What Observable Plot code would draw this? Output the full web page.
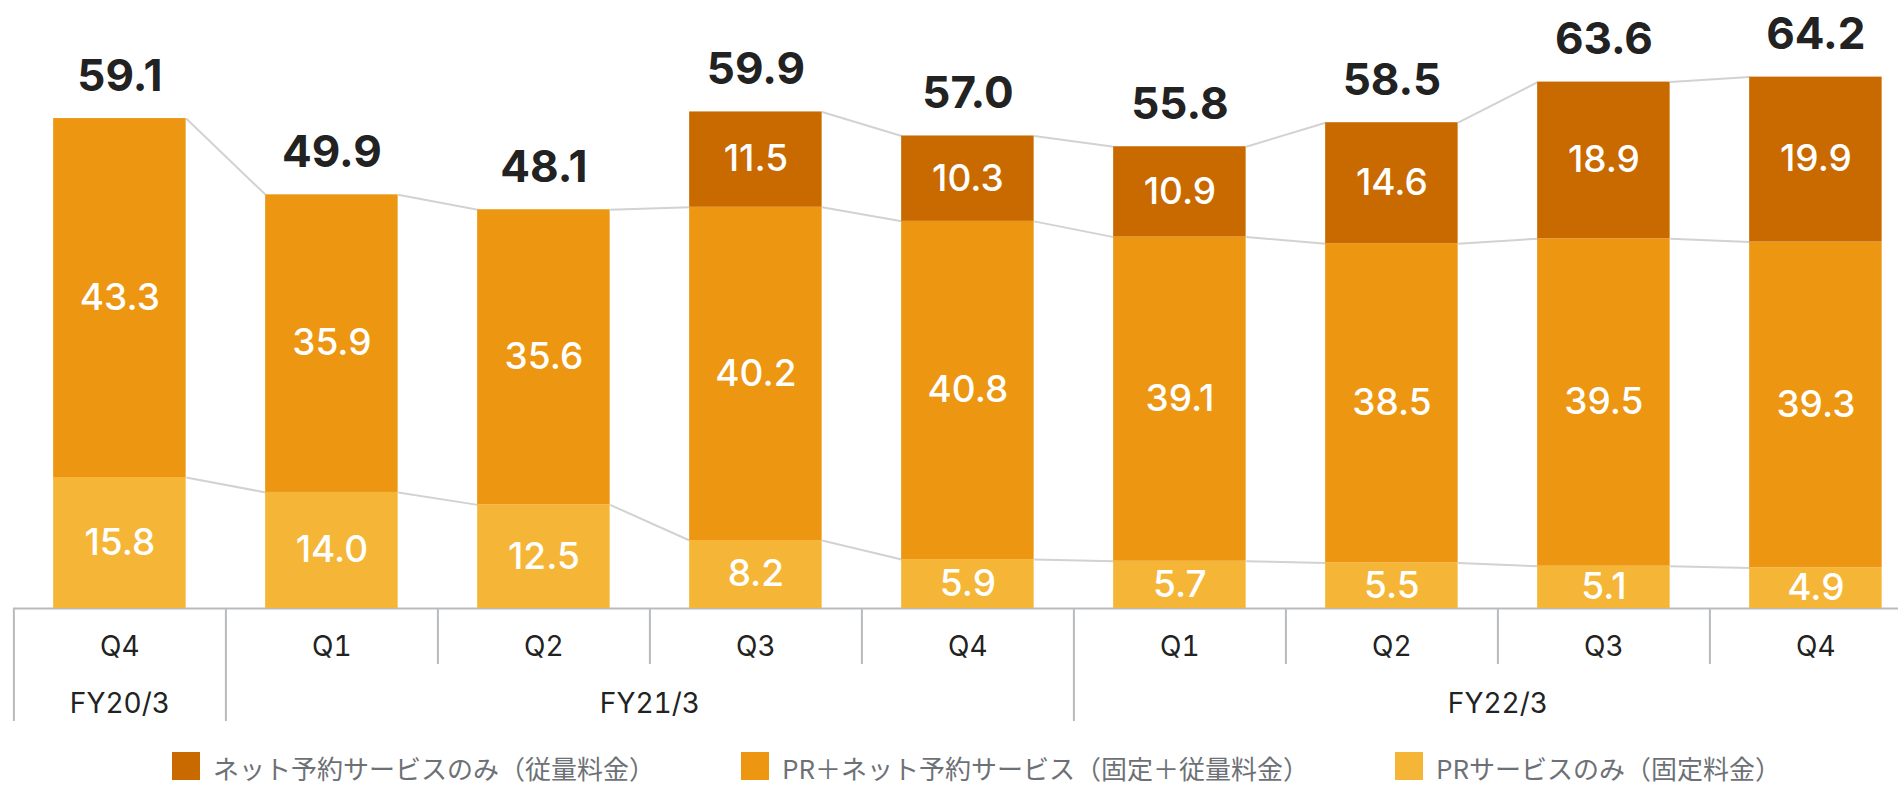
<!DOCTYPE html>
<html>
<head>
<meta charset="utf-8">
<script src="https://cdn.jsdelivr.net/npm/d3@7"></script>
<script src="https://cdn.jsdelivr.net/npm/@observablehq/plot@0.6"></script>
<style>
  html, body { margin: 0; padding: 0; background: #fff; }
  body { width: 1898px; height: 787px; overflow: hidden; font-family: Inter, "Noto Sans CJK JP", sans-serif; }
  #chart svg { display: block; }
  #legend { display: flex; align-items: flex-start; margin-top: 12px; padding-left: 172px; gap: 86px; }
  .item { display: flex; align-items: flex-start; gap: 13px; }
  .sw { width: 28px; height: 28px; flex: none; }
  .lab { font-size: 26px; line-height: 28px; color: #6d7176; white-space: nowrap; padding-top: 2px; font-family: "Noto Sans CJK JP", Inter, sans-serif; }
</style>
</head>
<body>
<div id="chart"></div>
<div id="legend"></div>
<script>
// ---- data ----
const quarters = ["Q4", "Q1", "Q2", "Q3", "Q4", "Q1", "Q2", "Q3", "Q4"];
const fiscalYears = ["FY20/3", "FY21/3", "FY21/3", "FY21/3", "FY21/3", "FY22/3", "FY22/3", "FY22/3", "FY22/3"];
const prOnly = [15.8, 14.0, 12.5, 8.2, 5.9, 5.7, 5.5, 5.1, 4.9];
const prNet = [43.3, 35.9, 35.6, 40.2, 40.8, 39.1, 38.5, 39.5, 39.3];
const netOnly = [null, null, null, 11.5, 10.3, 10.9, 14.6, 18.9, 19.9];
const totals = [59.1, 49.9, 48.1, 59.9, 57.0, 55.8, 58.5, 63.6, 64.2];
const seriesNames = ["PRサービスのみ（固定料金）", "PR＋ネット予約サービス（固定＋従量料金）", "ネット予約サービスのみ（従量料金）"];
const seriesColors = ["#F5B637", "#EC9612", "#C96A00"];
const legendOrder = [2, 1, 0];

// ---- derived tables ----
const seriesValues = [prOnly, prNet, netOnly];
const barHalf = 0.3125;
const rows = [];
const tops = seriesValues.map(() => []);
quarters.forEach((q, i) => {
  let cum = 0;
  seriesValues.forEach((vals, s) => {
    const v = vals[i];
    if (v == null) { tops[s][i] = null; return; }
    rows.push({i, s, v, y1: cum, y2: cum + v});
    cum += v;
    tops[s][i] = cum;
  });
});
const links = [];
seriesValues.forEach((vals, s) => {
  for (let i = 0; i < quarters.length - 1; i++) {
    if (tops[s][i] != null && tops[s][i + 1] != null) {
      links.push({x1: i + barHalf, x2: i + 1 - barHalf, y1: tops[s][i], y2: tops[s][i + 1]});
    }
  }
});
const totalRows = totals.map((t, i) => ({i, t, top: d3.max(tops, a => a[i])}));
const idx = d3.range(quarters.length);
const groups = d3.groups(idx, i => fiscalYears[i]).map(([fy, is]) => ({fy, center: d3.mean(is), start: d3.min(is) - 0.5}));
const groupStarts = new Set(groups.map(g => g.start));
const boundaries = d3.range(quarters.length + 1).map(k => k - 0.5);
const longSeps = boundaries.filter(b => groupStarts.has(b) || b === quarters.length - 0.5);
const shortSeps = boundaries.filter(b => !longSeps.includes(b));

const sepColor = "#b7bbbf";
const chart = Plot.plot({
  width: 1898,
  height: 740,
  marginLeft: 13,
  marginRight: 0,
  marginTop: 11,
  marginBottom: 132,
  style: {fontFamily: "Inter, 'Noto Sans CJK JP', sans-serif", background: "#fff"},
  x: {type: "linear", domain: [-0.5, quarters.length - 0.5], range: [13.4, 13.4 + 212 * quarters.length]},
  y: {domain: [0, 72], range: [608, 608 - 72 * 8.29], axis: null},
  marks: [
    Plot.ruleY([0], {stroke: sepColor, strokeWidth: 2}),
    Plot.link(links, {x1: "x1", x2: "x2", y1: "y1", y2: "y2", stroke: "#d2d2d2", strokeWidth: 2}),
    Plot.rect(rows, {x1: d => d.i - barHalf, x2: d => d.i + barHalf, y1: "y1", y2: "y2", fill: d => seriesColors[d.s]}),
    Plot.text(rows, {x: "i", y: d => (d.y1 + d.y2) / 2, text: d => d.v.toFixed(1), fill: "#fff", fontSize: 37, fontWeight: 500}),
    Plot.text(totalRows, {x: "i", y: "top", text: d => d.t.toFixed(1), fill: "#222", fontSize: 44, fontWeight: "bold", lineAnchor: "bottom", dy: -28}),
    Plot.axisX({ticks: idx, tickFormat: i => quarters[i], tickSize: 0, tickPadding: 28, fontSize: 28, label: null, color: "#222"}),
    Plot.axisX({ticks: groups.map(g => g.center), tickFormat: c => groups.find(g => g.center === c).fy, tickSize: 0, tickPadding: 85, fontSize: 28, label: null, color: "#222"}),
    Plot.axisX({ticks: shortSeps, tickFormat: () => "", tickSize: 56, stroke: sepColor, strokeWidth: 2, strokeOpacity: 1, label: null}),
    Plot.axisX({ticks: longSeps, tickFormat: () => "", tickSize: 113, stroke: sepColor, strokeWidth: 2, strokeOpacity: 1, label: null})
  ]
});
document.getElementById("chart").append(chart);

const legend = document.getElementById("legend");
legendOrder.forEach(s => {
  const it = document.createElement("div");
  it.className = "item";
  const sw = document.createElement("div");
  sw.className = "sw";
  sw.style.background = seriesColors[s];
  const lab = document.createElement("div");
  lab.className = "lab";
  lab.textContent = seriesNames[s];
  it.append(sw, lab);
  legend.append(it);
});
</script>
</body>
</html>
